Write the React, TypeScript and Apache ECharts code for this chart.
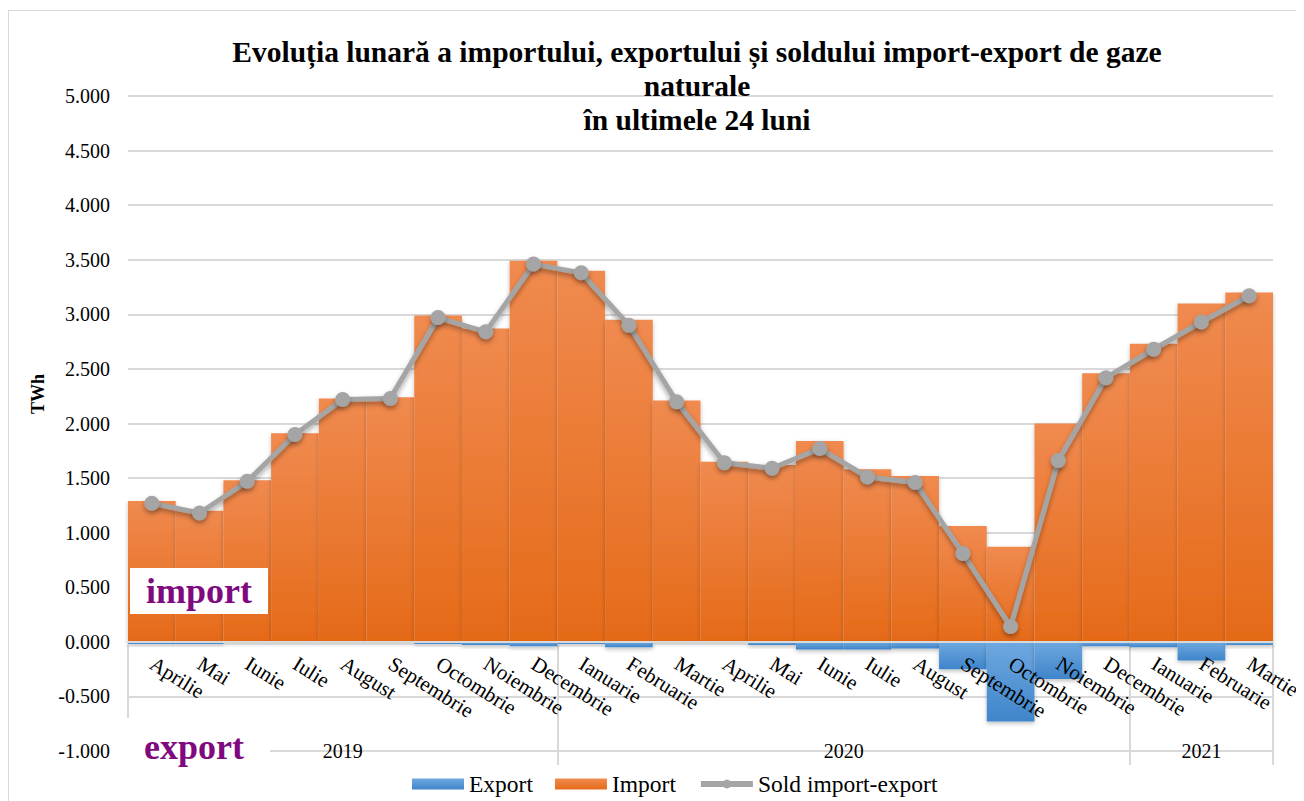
import React, { useEffect, useRef } from 'react';
import * as echarts from 'echarts';

const months = [
  'Aprilie', 'Mai', 'Iunie', 'Iulie', 'August', 'Septembrie', 'Octombrie', 'Noiembrie', 'Decembrie',
  'Ianuarie', 'Februarie', 'Martie', 'Aprilie', 'Mai', 'Iunie', 'Iulie', 'August', 'Septembrie',
  'Octombrie', 'Noiembrie', 'Decembrie', 'Ianuarie', 'Februarie', 'Martie',
];
const importVals = [
  1.29, 1.2, 1.48, 1.91, 2.23, 2.24, 2.99, 2.87, 3.49, 3.4, 2.95, 2.21,
  1.65, 1.62, 1.84, 1.58, 1.52, 1.06, 0.87, 2.0, 2.46, 2.73, 3.1, 3.2,
];
const exportVals = [
  -0.02, -0.02, -0.01, -0.01, -0.01, -0.01, -0.02, -0.03, -0.04, -0.02, -0.05, -0.01,
  -0.01, -0.03, -0.07, -0.07, -0.06, -0.25, -0.73, -0.34, -0.04, -0.05, -0.17, -0.03,
];
const soldVals = [
  1.27, 1.18, 1.47, 1.9, 2.22, 2.23, 2.97, 2.84, 3.46, 3.38, 2.9, 2.2,
  1.64, 1.59, 1.77, 1.51, 1.46, 0.81, 0.14, 1.66, 2.42, 2.68, 2.93, 3.17,
];
const years = ['2019', '2020', '2021'];
const monthsPerYear = [9, 12, 3];
const yMin = -1;
const yMax = 5;
const yStep = 0.5;

const FONT = '"Liberation Serif", "Times New Roman", serif';

const CHART_H = 800;
const GRID_TOP = 85;
const GRID_BOTTOM = 60;

export default function App() {
  const ref = useRef<HTMLDivElement>(null);

  useEffect(() => {
    const chart = echarts.init(ref.current!, null, { renderer: 'svg' });

    const slots = months.length * 2;
    const yearData: string[] = new Array(slots + 1).fill('');
    const boundaries: number[] = [0];
    let acc = 0;
    years.forEach((y, i) => {
      const start = acc;
      acc += monthsPerYear[i] * 2;
      yearData[(start + acc) / 2] = y;
      boundaries.push(acc);
    });

    // month axis sits on the zero line of the value axis
    const gridH = CHART_H - GRID_TOP - GRID_BOTTOM;
    const zeroOffset = -gridH * ((0 - yMin) / (yMax - yMin));

    const grad = (c0: string, c1: string) =>
      new echarts.graphic.LinearGradient(0, 0, 0, 1, [
        { offset: 0, color: c0 },
        { offset: 1, color: c1 },
      ]);

    chart.setOption({
      animation: false,
      title: {
        text: 'Evoluția lunară a importului, exportului și soldului import-export de gaze\nnaturale\nîn ultimele 24 luni',
        left: 683,
        top: 19,
        textAlign: 'center',
        textStyle: {
          fontFamily: FONT,
          fontSize: 29.5,
          fontWeight: 'bold',
          color: '#000',
          lineHeight: 34,
        },
      },
      legend: {
        left: 398,
        top: 756,
        itemWidth: 52,
        itemHeight: 11,
        itemGap: 22,
        textStyle: { fontFamily: FONT, fontSize: 23.5, color: '#000' },
        data: [
          { name: 'Export', icon: 'rect' },
          { name: 'Import', icon: 'rect' },
          { name: 'Sold import-export', lineStyle: { width: 6, color: '#A5A5A5' } },
        ],
      },
      grid: {
        left: 119,
        right: 36,
        top: GRID_TOP,
        bottom: GRID_BOTTOM,
        containLabel: false,
        outerBoundsMode: 'none',
      },
      xAxis: [
        {
          type: 'category',
          data: months,
          position: 'bottom',
          offset: zeroOffset,
          z: 10,
          axisLine: { onZero: false, lineStyle: { color: '#D9D9D9', width: 2 } },
          axisTick: { show: false },
          axisLabel: {
            interval: 0,
            rotate: -32,
            margin: 20,
            fontFamily: FONT,
            fontSize: 21,
            color: '#000',
          },
          splitLine: { show: false },
        },
        {
          type: 'category',
          data: yearData,
          boundaryGap: false,
          position: 'bottom',
          offset: 14,
          axisLine: { show: false, onZero: false },
          axisTick: {
            show: true,
            inside: true,
            length: 120,
            interval: (index: number) => boundaries.includes(index),
            lineStyle: { color: '#D9D9D9', width: 2 },
          },
          axisLabel: {
            interval: 0,
            margin: -24,
            fontFamily: FONT,
            fontSize: 20,
            color: '#000',
          },
          splitLine: { show: false },
        },
      ],
      yAxis: {
        type: 'value',
        min: yMin,
        max: yMax,
        interval: yStep,
        axisLine: { show: false },
        axisTick: { show: false },
        axisLabel: {
          margin: 18,
          fontFamily: FONT,
          fontSize: 20,
          color: '#000',
          formatter: (v: number) => v.toFixed(3),
        },
        splitLine: { lineStyle: { color: '#D9D9D9', width: 2 } },
      },
      series: [
        {
          name: 'Import',
          type: 'bar',
          stack: 'total',
          barCategoryGap: '0%',
          data: importVals,
          itemStyle: {
            color: grad('#F08A4F', '#E56A18'),
            shadowColor: 'rgba(0,0,0,0.25)',
            shadowBlur: 4,
            shadowOffsetY: 2,
          },
        },
        {
          name: 'Export',
          type: 'bar',
          stack: 'total',
          barCategoryGap: '0%',
          data: exportVals,
          itemStyle: {
            color: grad('#6EA8DF', '#3F85CB'),
            shadowColor: 'rgba(0,0,0,0.25)',
            shadowBlur: 4,
            shadowOffsetY: 2,
          },
        },
        {
          name: 'Sold import-export',
          type: 'line',
          data: soldVals,
          symbol: 'circle',
          symbolSize: 15,
          z: 5,
          lineStyle: {
            color: '#A5A5A5',
            width: 5,
            shadowColor: 'rgba(0,0,0,0.35)',
            shadowBlur: 5,
            shadowOffsetY: 3,
          },
          itemStyle: {
            color: '#A5A5A5',
            shadowColor: 'rgba(0,0,0,0.35)',
            shadowBlur: 5,
            shadowOffsetY: 3,
          },
        },
      ],
      graphic: [
        { type: 'rect', z: 100, shape: { x: 121, y: 557, width: 138, height: 46 }, style: { fill: '#fff' } },
        {
          type: 'text',
          z: 101,
          x: 190,
          y: 580,
          style: {
            text: 'import',
            fill: '#7F0A7F',
            font: `bold 36px ${FONT}`,
            align: 'center',
            verticalAlign: 'middle',
          },
        },
        { type: 'rect', z: 100, shape: { x: 118, y: 707, width: 143, height: 48 }, style: { fill: '#fff' } },
        {
          type: 'text',
          z: 101,
          x: 185,
          y: 736,
          style: {
            text: 'export',
            fill: '#7F0A7F',
            font: `bold 36px ${FONT}`,
            align: 'center',
            verticalAlign: 'middle',
          },
        },
        {
          type: 'text',
          z: 101,
          x: 29,
          y: 383,
          rotation: Math.PI / 2,
          style: {
            text: 'TWh',
            fill: '#000',
            font: `bold 18px ${FONT}`,
            align: 'center',
            verticalAlign: 'middle',
          },
        },
      ],
    });

    return () => chart.dispose();
  }, []);

  return (
    <div style={{ position: 'relative', top: 2, width: 1300, height: CHART_H, border: '1px solid #D9D9D9' }}>
      <div ref={ref} style={{ width: 1300, height: CHART_H }} />
    </div>
  );
}
